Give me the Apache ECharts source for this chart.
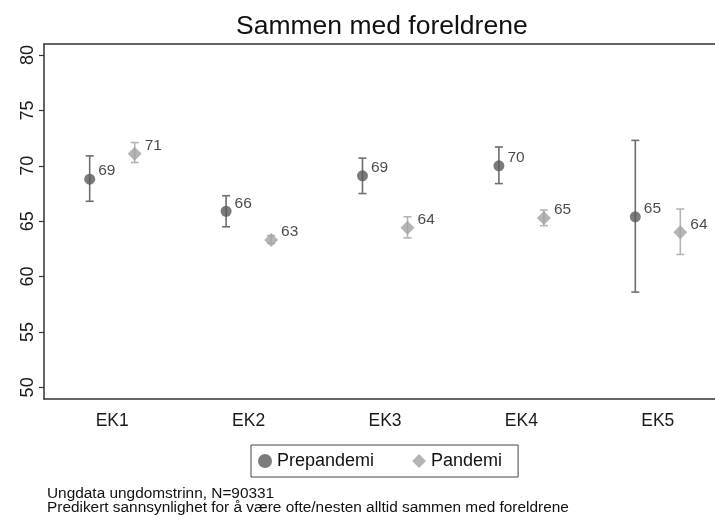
<!DOCTYPE html>
<html>
<head>
    <meta charset="UTF-8">
    <script type="text/javascript" src="https://cdn.jsdelivr.net/npm/echarts@6/dist/echarts.min.js"></script>
    <style>
        body { margin: 0; background: #fff; }
        #myDiv { width: 715px; height: 515px; }
    </style>
</head>
<body>
<div id="myDiv"></div>
<script type="text/javascript">
    var categories = ['EK1', 'EK2', 'EK3', 'EK4', 'EK5'];
    var yTicks = [50, 55, 60, 65, 70, 75, 80];

    var prepValues = [68.8, 65.9, 69.1, 70.0, 65.4];
    var prepLow = [66.8, 64.5, 67.5, 68.4, 58.6];
    var prepHigh = [70.9, 67.3, 70.7, 71.7, 72.3];

    var pandValues = [71.1, 63.3, 64.4, 65.3, 64.0];
    var pandLow = [70.3, 63.0, 63.5, 64.6, 62.0];
    var pandHigh = [72.1, 63.7, 65.4, 66.0, 66.1];

    var shift = 0.165;
    var xMin = 0.5;
    var xMax = 0.5 + 671 / 136.4;

    function points(vals, dx) {
        var out = [];
        for (var i = 0; i < vals.length; i++) {
            out.push([i + 1 + dx, vals[i]]);
        }
        return out;
    }
    function bars(lo, hi, dx) {
        var out = [];
        for (var i = 0; i < lo.length; i++) {
            out.push([i + 1 + dx, lo[i], hi[i]]);
        }
        return out;
    }
    function errorBar(color) {
        return function (params, api) {
            var low = api.coord([api.value(0), api.value(1)]);
            var high = api.coord([api.value(0), api.value(2)]);
            var cap = 4;
            var st = {stroke: color, lineWidth: 1.6};
            return {
                type: 'group',
                children: [
                    {type: 'line', shape: {x1: low[0], y1: low[1], x2: high[0], y2: high[1]}, style: st},
                    {type: 'line', shape: {x1: low[0] - cap, y1: low[1], x2: low[0] + cap, y2: low[1]}, style: st},
                    {type: 'line', shape: {x1: high[0] - cap, y1: high[1], x2: high[0] + cap, y2: high[1]}, style: st}
                ]
            };
        };
    }

    var labelStyle = {
        show: true,
        position: 'right',
        offset: [-2, -8],
        color: '#1a1a1a',
        fontSize: 15.5,
        fontFamily: 'Liberation Sans',
        formatter: function (p) { return Math.round(p.value[1]); }
    };
    var frameLine = {show: true, lineStyle: {color: '#333', width: 1.5}};

    var chart = echarts.init(document.getElementById('myDiv'));
    var option = {
        animation: false,
        textStyle: {fontFamily: 'Liberation Sans'},
        title: [
            {
                text: 'Sammen med foreldrene',
                left: 236,
                top: 13,
                padding: 0,
                textStyle: {fontSize: 26.5, fontWeight: 'normal', color: '#111', fontFamily: 'Liberation Sans'}
            },
            {
                text: 'Ungdata ungdomstrinn, N=90331\nPredikert sannsynlighet for å være ofte/nesten alltid sammen med foreldrene',
                left: 47,
                top: 487,
                padding: 0,
                textStyle: {fontSize: 15.4, fontWeight: 'normal', color: '#111', lineHeight: 14, fontFamily: 'Liberation Sans'}
            }
        ],
        legend: {
            data: ['Prepandemi', 'Pandemi'],
            left: 251,
            top: 445,
            padding: [7, 16, 7, 7],
            itemGap: 38,
            itemWidth: 14,
            itemHeight: 14,
            borderColor: '#444',
            borderWidth: 1,
            borderRadius: 0,
            textStyle: {fontSize: 18, color: '#111', fontFamily: 'Liberation Sans'}
        },
        grid: {
            left: 44,
            top: 44,
            right: 0,
            height: 355
        },
        xAxis: [
            {
                type: 'value',
                min: xMin,
                max: xMax,
                splitLine: {show: false},
                axisLine: frameLine,
                axisTick: {show: false},
                axisLabel: {
                    customValues: [1, 2, 3, 4, 5],
                    margin: 13,
                    fontSize: 17.5,
                    color: '#1a1a1a',
                    formatter: function (v) { return categories[Math.round(v) - 1]; }
                }
            },
            {
                type: 'value',
                position: 'top',
                min: xMin,
                max: xMax,
                splitLine: {show: false},
                axisLine: frameLine,
                axisTick: {show: false},
                axisLabel: {show: false}
            }
        ],
        yAxis: {
            type: 'value',
            min: 48.95,
            max: 81,
            splitLine: {show: false},
            axisLine: frameLine,
            axisTick: {show: true, length: 5, customValues: yTicks, lineStyle: {color: '#333', width: 1.2}},
            axisLabel: {
                customValues: yTicks,
                rotate: 90,
                margin: 7,
                fontSize: 18,
                color: '#1a1a1a'
            }
        },
        series: [
            {
                name: 'prepBars',
                type: 'custom',
                renderItem: errorBar('#6e6e6e'),
                data: bars(prepLow, prepHigh, -shift),
                z: 1
            },
            {
                name: 'pandBars',
                type: 'custom',
                renderItem: errorBar('#b4b4b4'),
                data: bars(pandLow, pandHigh, shift),
                z: 1
            },
            {
                name: 'Prepandemi',
                type: 'scatter',
                symbol: 'circle',
                symbolSize: 11,
                itemStyle: {color: '#5a5a5a'},
                label: labelStyle,
                data: points(prepValues, -shift),
                z: 3
            },
            {
                name: 'Pandemi',
                type: 'scatter',
                symbol: 'diamond',
                symbolSize: 14,
                itemStyle: {color: '#a3a3a3'},
                label: labelStyle,
                data: points(pandValues, shift),
                z: 3
            }
        ]
    };
    chart.setOption(option);
</script>
</body>
</html>
